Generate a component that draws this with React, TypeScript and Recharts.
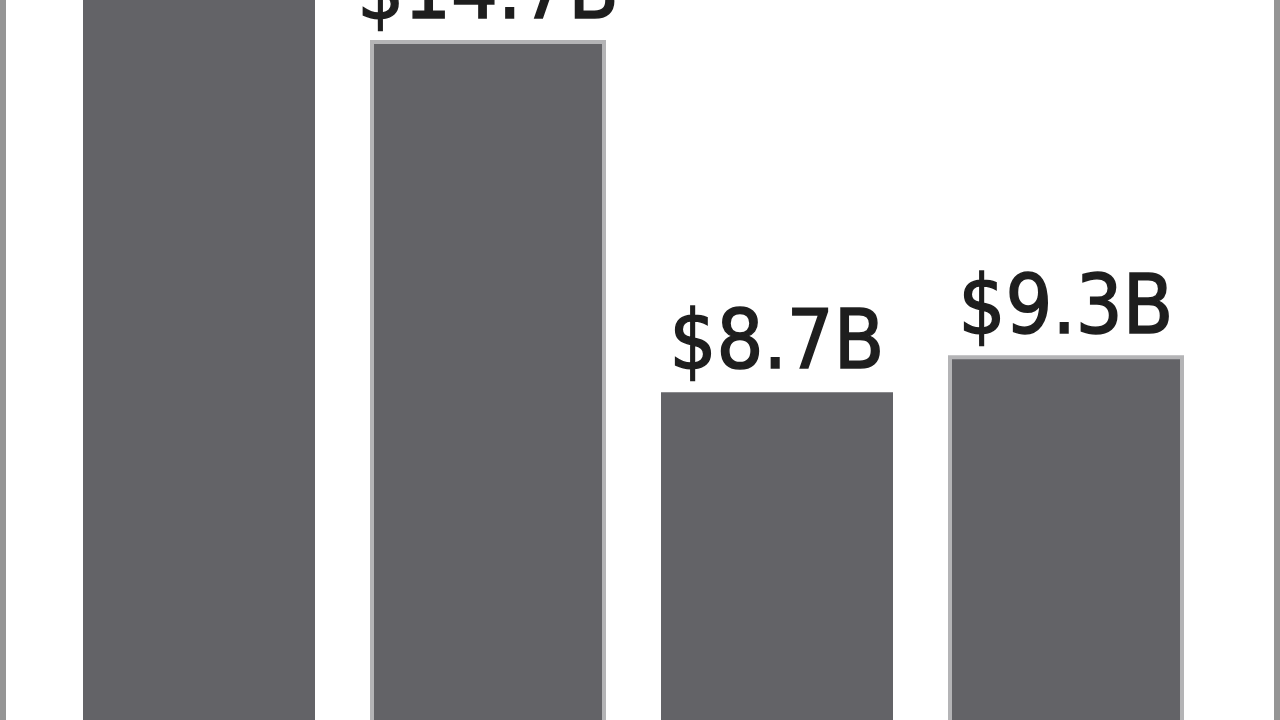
import { BarChart, Bar, XAxis, YAxis, LabelList, Cell } from 'recharts';

// Values in billions of dollars; the first bar runs off the top of the crop
const categories = ['A', 'B', 'C', 'D'];
const spending = [17.2, 14.7, 8.7, 9.3];
const valueLabels = ['$17.2B', '$14.7B', '$8.7B', '$9.3B'];

const data = categories.map((name, i) => ({
  name,
  value: spending[i],
  label: valueLabels[i],
}));

// the scanned original has a light rim on two of the bars
const rimmed = [false, true, false, true];

export default function App() {
  return (
    <div
      style={{
        position: 'absolute',
        left: 0,
        top: 0,
        width: 1280,
        height: 720,
        overflow: 'hidden',
        background: '#ffffff',
      }}
    >
      <BarChart
        width={1280}
        height={900}
        data={data}
        margin={{ top: 0, right: 70, left: 54, bottom: 0 }}
        barSize={232}
      >
        <XAxis dataKey="name" hide />
        <YAxis hide domain={[0, 15.42]} allowDataOverflow />
        <Bar dataKey="value" fill="#636367" isAnimationActive={false}>
          {data.map((d, i) => (
            <Cell
              key={d.name}
              stroke={rimmed[i] ? '#b4b4b6' : 'none'}
              strokeWidth={rimmed[i] ? 4 : 0}
            />
          ))}
          <LabelList
            dataKey="label"
            position="top"
            offset={24}
            fill="#1e1e1e"
            stroke="#1e1e1e"
            strokeWidth={1.5}
            fontSize={82}
            fontFamily="'DejaVu Sans Condensed', 'DejaVu Sans', sans-serif"
          />
        </Bar>
      </BarChart>
      <div
        style={{
          position: 'absolute',
          left: 0,
          top: 0,
          width: 6,
          height: 720,
          background: '#959595',
        }}
      />
      <div
        style={{
          position: 'absolute',
          right: 0,
          top: 0,
          width: 6,
          height: 720,
          background: '#959595',
        }}
      />
    </div>
  );
}
